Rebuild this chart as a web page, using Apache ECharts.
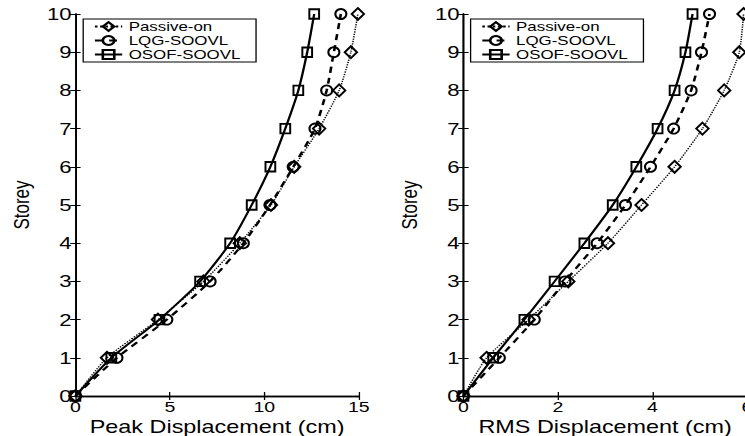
<!DOCTYPE html>
<html>
<head>
<meta charset="utf-8">
<script src="https://cdn.jsdelivr.net/npm/echarts@6/dist/echarts.min.js"></script>
<style>
  html, body { margin: 0; padding: 0; background: #fff; overflow: hidden; }
  /* the source figure is stretched sideways, so draw narrow and widen it */
  #chart { width: 573px; height: 436px; transform: scaleX(1.3); transform-origin: 0 0; }
</style>
</head>
<body>
<div id="chart"></div>
<script>
const storeys = [0, 1, 2, 3, 4, 5, 6, 7, 8, 9, 10];
const seriesNames = ["Passive-on", "LQG-SOOVL", "OSOF-SOOVL"];

// peak displacement (cm) per storey
const peakPassive = [0, 1.67, 4.37, 6.78, 8.7, 10.35, 11.58, 12.9, 13.96, 14.58, 14.95];
const peakLqg = [0, 2.2, 4.84, 7.13, 8.89, 10.3, 11.53, 12.68, 13.3, 13.68, 14.05];
const peakOsof = [0, 1.9, 4.45, 6.6, 8.19, 9.33, 10.32, 11.11, 11.8, 12.27, 12.64];

// RMS displacement (cm) per storey
const rmsPassive = [0, 0.49, 1.38, 2.22, 3.06, 3.77, 4.47, 5.06, 5.52, 5.84, 5.93];
const rmsLqg = [0, 0.76, 1.5, 2.15, 2.83, 3.43, 3.96, 4.45, 4.82, 5.04, 5.21];
const rmsOsof = [0, 0.63, 1.29, 1.93, 2.56, 3.16, 3.66, 4.11, 4.47, 4.7, 4.85];

const FONT = "'Liberation Sans', Arial, Helvetica, sans-serif";
const grids = [
  { left: 58, top: 14, width: 218, height: 382, outerBoundsMode: "none" },
  { left: 356.5, top: 14, width: 218, height: 382, outerBoundsMode: "none" },
];

const pair = (xs) => xs.map((x, i) => [x, storeys[i]]);

const styles = [
  { symbol: "diamond", symbolSize: [9.5, 12], line: { type: "dotted", width: 1.2 } },
  { symbol: "circle", symbolSize: [8.5, 10], line: { type: [6, 5], width: 2 } },
  { symbol: "rect", symbolSize: [7.5, 9.5], line: { type: "solid", width: 1.8 } },
];

function xAxes(gridIndex, max, interval, name) {
  const common = {
    gridIndex, type: "value", min: 0, max, interval,
    axisLine: { show: true, lineStyle: { color: "#000", width: 1.3 } },
    axisTick: { show: true, inside: true, length: 4, lineStyle: { color: "#000" } },
    splitLine: { show: false },
  };
  return [
    {
      ...common, position: "bottom",
      name, nameLocation: "middle", nameGap: 23, nameMoveOverlap: false,
      nameTextStyle: { color: "#000", fontFamily: FONT, fontSize: 18, lineHeight: 16, verticalAlign: "top" },
      axisLabel: { color: "#000", fontFamily: FONT, fontSize: 15, lineHeight: 13, margin: 4 },
    },
    { ...common, position: "top", axisLabel: { show: false } },
  ];
}

function yAxes(gridIndex) {
  const common = {
    gridIndex, type: "value", min: 0, max: 10, interval: 1,
    axisLine: { show: true, lineStyle: { color: "#000", width: 1.3 } },
    axisTick: { show: true, inside: true, length: 4, lineStyle: { color: "#000" } },
    splitLine: { show: false },
  };
  return [
    {
      ...common, position: "left",
      name: "Storey", nameLocation: "middle", nameGap: 33, nameRotate: 90, nameMoveOverlap: false,
      nameTextStyle: { color: "#000", fontFamily: FONT, fontSize: 17 },
      axisLabel: { color: "#000", fontFamily: FONT, fontSize: 17, margin: 3 },
    },
    { ...common, position: "right", axisLabel: { show: false } },
  ];
}

function makeSeries(values, axisIndex) {
  return values.map((v, i) => ({
    name: seriesNames[i],
    type: "line",
    xAxisIndex: axisIndex,
    yAxisIndex: axisIndex,
    data: pair(v),
    smooth: 0.2,
    clip: false,
    symbol: styles[i].symbol,
    symbolSize: styles[i].symbolSize,
    showAllSymbol: true,
    lineStyle: { color: "#000", ...styles[i].line },
    itemStyle: { color: "rgba(255,255,255,0)", borderColor: "#000", borderWidth: 1.7 },
    emphasis: { disabled: true },
    z: 3 - i,
  }));
}

function legendAt(left) {
  return {
    left, top: 19,
    orient: "vertical",
    data: seriesNames,
    selectedMode: false,
    backgroundColor: "#fff",
    borderColor: "#000",
    borderWidth: 1,
    padding: [1, 12, 1, 8],
    itemWidth: 21,
    itemHeight: 11,
    itemGap: 1,
    textStyle: { color: "#000", fontFamily: FONT, fontSize: 13, lineHeight: 13 },
  };
}

const chart = echarts.init(document.getElementById("chart"), null, { renderer: "svg" });
chart.setOption({
  animation: false,
  backgroundColor: "#fff",
  grid: grids,
  xAxis: [...xAxes(0, 15, 5, "Peak Displacement (cm)"), ...xAxes(1, 6, 2, "RMS Displacement (cm)")],
  yAxis: [...yAxes(0), ...yAxes(1)],
  legend: [legendAt(64), legendAt(362)],
  series: [
    ...makeSeries([peakPassive, peakLqg, peakOsof], 0),
    ...makeSeries([rmsPassive, rmsLqg, rmsOsof], 2),
  ],
});
</script>
</body>
</html>
